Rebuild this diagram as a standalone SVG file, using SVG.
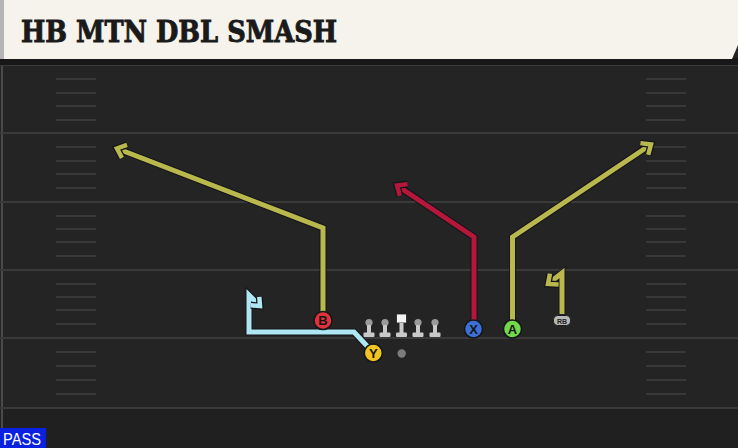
<svg xmlns="http://www.w3.org/2000/svg" width="738" height="448" viewBox="0 0 738 448">
<style>
.yard{stroke:#3a3a3a;stroke-width:2}
.hash{stroke:#383838;stroke-width:2}
.out{fill:none;stroke:#14141c;stroke-width:7;stroke-linejoin:miter;stroke-linecap:butt}
.rt{fill:none;stroke-width:5;stroke-linejoin:miter;stroke-linecap:butt}
.olive{stroke:#b9b84c}
.red{stroke:#b5173a}
.cyan{stroke:#aee6f2}
.pl{stroke:#15151a;stroke-width:1.5}
.lbl{font-family:"Liberation Sans",Arial,sans-serif;font-weight:bold;font-size:13px;fill:#151515;text-anchor:middle}
.ol-head{fill:#9a9a9a}
.ol-body{fill:#c9c9c9}
</style>
<defs>
<marker id="ah-olive" markerUnits="userSpaceOnUse" viewBox="-12 -8 16 16" markerWidth="16" markerHeight="16" refX="0" refY="0" orient="auto" overflow="visible">
<path d="M-8,-7 L0,0 L-8,7" fill="none" stroke="#14141c" stroke-width="7"/>
<path d="M-8,-7 L0,0 L-8,7" fill="none" stroke="#b9b84c" stroke-width="4.5"/>
</marker>
<marker id="ah-red" markerUnits="userSpaceOnUse" viewBox="-12 -8 16 16" markerWidth="16" markerHeight="16" refX="0" refY="0" orient="auto" overflow="visible">
<path d="M-8,-7 L0,0 L-8,7" fill="none" stroke="#14141c" stroke-width="7"/>
<path d="M-8,-7 L0,0 L-8,7" fill="none" stroke="#b5173a" stroke-width="4.5"/>
</marker>
<marker id="ah-cyan" markerUnits="userSpaceOnUse" viewBox="-12 -8 16 16" markerWidth="16" markerHeight="16" refX="0" refY="0" orient="auto" overflow="visible">
<path d="M-7,-6 L0,0 L-7,6" fill="none" stroke="#14141c" stroke-width="7"/>
<path d="M-7,-6 L0,0 L-7,6" fill="none" stroke="#aee6f2" stroke-width="4.5"/>
</marker>
<g id="lineman">
<circle class="ol-head" cx="0" cy="-14.5" r="3.6"/>
<rect class="ol-body" x="-2" y="-12" width="4" height="9"/>
<rect class="ol-body" x="-5.5" y="-4.5" width="11" height="4.5" rx="1"/>
</g>
</defs>

<!-- field -->
<rect x="0" y="0" width="738" height="448" fill="#242424"/>
<rect x="0" y="408" width="738" height="40" fill="#202020"/>
<line x1="2" y1="60" x2="2" y2="448" stroke="#4a4a4a" stroke-width="2"/>
<g id="yardlines">
<line class="yard" x1="0" y1="65" x2="738" y2="65"/>
<line class="yard" x1="0" y1="133" x2="738" y2="133"/>
<line class="yard" x1="0" y1="202" x2="738" y2="202"/>
<line class="yard" x1="0" y1="270" x2="738" y2="270"/>
<line class="yard" x1="0" y1="338" x2="738" y2="338"/>
<line class="yard" x1="0" y1="408" x2="738" y2="408"/>
</g>
<g id="hashes">
<path class="hash" d="M56,79H96M56,93H96M56,106H96M56,120H96M56,147H96M56,161H96M56,174H96M56,188H96M56,216H96M56,229H96M56,242H96M56,256H96M56,284H96M56,297H96M56,310H96M56,324H96M56,352H96M56,366H96M56,380H96M56,394H96"/>
<path class="hash" d="M646,79H686M646,93H686M646,106H686M646,120H686M646,147H686M646,161H686M646,174H686M646,188H686M646,216H686M646,229H686M646,242H686M646,256H686M646,284H686M646,297H686M646,310H686M646,324H686M646,352H686M646,366H686M646,380H686M646,394H686"/>
</g>

<!-- header -->
<rect x="0" y="58" width="738" height="7" fill="#181818"/>
<path d="M0,0 H738 V45 L732,59 H0 Z" fill="#f5f3ec"/>
<rect x="0" y="0" width="4" height="59" fill="#b5b5b5"/>
<text x="21" y="42" font-family="'DejaVu Serif',serif" font-weight="bold" font-size="29" fill="#1a1a1a" stroke="#1a1a1a" stroke-width="0.9" textLength="316" lengthAdjust="spacingAndGlyphs">HB MTN DBL SMASH</text>

<!-- connectors -->
<g id="routes">
<path class="out" d="M323,314 V228 L121,150"/>
<path class="rt olive" d="M323,314 V228 L117,148.5" marker-end="url(#ah-olive)"/>
<path class="out" d="M474,322 V237 L401,188"/>
<path class="rt red" d="M474,322 V237 L397,185.5" marker-end="url(#ah-red)"/>
<path class="out" d="M512.5,322 V237 L647,147"/>
<path class="rt olive" d="M512.5,322 V237 L651,144.5" marker-end="url(#ah-olive)"/>
<path class="out" d="M562,314 V273 L551,281"/>
<path class="rt olive" d="M562,314 V273 L548,284" marker-end="url(#ah-olive)"/>
<path class="out" d="M368,347 L354,332 H249 V295 L257,303"/>
<path class="rt cyan" d="M368,347 L354,332 H249 V295 L260,306" marker-end="url(#ah-cyan)"/>
</g>

<!-- offensive line -->
<g id="oline">
<use href="#lineman" x="369" y="337"/>
<use href="#lineman" x="385" y="337"/>
<g id="center">
<rect x="396.5" y="314" width="10" height="9" fill="#f4f4f4" stroke="#222" stroke-width="0.8"/>
<rect class="ol-body" x="399.5" y="323" width="4" height="10"/>
<rect class="ol-body" x="396" y="332.5" width="11" height="4.5" rx="1"/>
</g>
<use href="#lineman" x="418" y="337"/>
<use href="#lineman" x="435" y="337"/>
</g>
<g id="qb"><circle cx="401.7" cy="353.5" r="4.2" fill="#7c7c7c"/></g>

<!-- players -->
<g id="player-B"><circle class="pl" cx="323" cy="320.5" r="9" fill="#e0323c"/><text class="lbl" x="323" y="325.2">B</text></g>
<g id="player-Y"><circle class="pl" cx="373.3" cy="353" r="9" fill="#f2c41e"/><text class="lbl" x="373.3" y="357.7">Y</text></g>
<g id="player-X"><circle class="pl" cx="473.5" cy="329" r="9" fill="#3d6fd6"/><text class="lbl" x="473.5" y="333.7">X</text></g>
<g id="player-A"><circle class="pl" cx="512.5" cy="329" r="9" fill="#72d84a"/><text class="lbl" x="512.5" y="333.7">A</text></g>
<g id="player-RB"><rect x="553.5" y="315.5" width="17" height="10" rx="4" fill="#b8b8b8" stroke="#1a1a1a" stroke-width="1"/><text x="562" y="323.5" font-family="'Liberation Sans',Arial,sans-serif" font-weight="bold" font-size="7" fill="#1a1a1a" text-anchor="middle">RB</text></g>

<!-- pass tag -->
<g id="pass-tag">
<rect x="0" y="428" width="46" height="20" fill="#0a22e0"/>
<text x="3" y="445" font-family="'Liberation Sans',Arial,sans-serif" font-size="16" fill="#ffffff" textLength="38" lengthAdjust="spacingAndGlyphs">PASS</text>
</g>
</svg>
